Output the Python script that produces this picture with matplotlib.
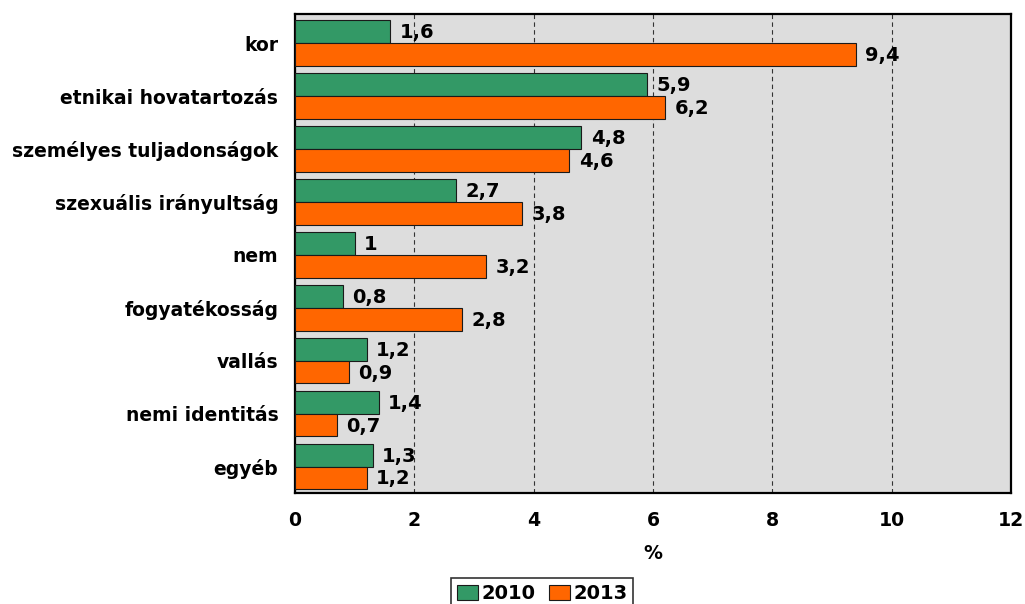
import numpy as np
import matplotlib.pyplot as plt

categories = ["kor", "etnikai hovatartozás", "személyes tuljadonságok",
              "szexuális irányultság", "nem", "fogyatékosság", "vallás",
              "nemi identitás", "egyéb"]
vals_2010 = [1.6, 5.9, 4.8, 2.7, 1.0, 0.8, 1.2, 1.4, 1.3]
vals_2013 = [9.4, 6.2, 4.6, 3.8, 3.2, 2.8, 0.9, 0.7, 1.2]
series_names = ["2010", "2013"]


def fmt(v):
    s = ("%.1f" % v).rstrip("0").rstrip(".")
    return s.replace(".", ",")


plt.rcParams['font.family'] = ['DejaVu Sans']
plt.rcParams['font.weight'] = 'bold'

fig = plt.figure(figsize=(10.25, 6.04), dpi=100)
ax = fig.add_axes([0.2878, 0.1838, 0.6985, 0.7930])
ax.set_facecolor("#DDDDDD")

y = np.arange(len(categories))
h = 0.43
b1 = ax.barh(y - h / 2, vals_2010, height=h, color="#339966",
             edgecolor="#1a1a1a", linewidth=0.8, label=series_names[0], zorder=3)
b2 = ax.barh(y + h / 2, vals_2013, height=h, color="#FF6600",
             edgecolor="#1a1a1a", linewidth=0.8, label=series_names[1], zorder=3)

for bars, vals in ((b1, vals_2010), (b2, vals_2013)):
    for bar, v in zip(bars, vals):
        ax.text(v + 0.16, bar.get_y() + bar.get_height() / 2 + 0.02, fmt(v),
                va="center", ha="left", fontsize=14, fontweight="bold", zorder=4)

ax.set_xlim(0, 12)
ax.set_ylim(len(categories) - 0.5, -0.55)
ax.set_xticks(range(0, 13, 2))
ax.set_yticks(y)
ax.set_yticklabels(categories, fontsize=13.5, fontweight="bold")
ax.tick_params(axis="x", labelsize=13.6, length=0, pad=13)
ax.tick_params(axis="y", length=0, pad=12)
ax.xaxis.grid(True, linestyle=(0, (4, 3)), color="#333333", linewidth=0.8, zorder=1)
for sp in ax.spines.values():
    sp.set_linewidth(1.6)
    sp.set_color("black")
ax.set_xlabel("%", fontsize=13.6, fontweight="bold", labelpad=10)

leg = fig.legend(loc="upper center", bbox_to_anchor=(0.529, 0.043), ncol=2,
                 fontsize=14, frameon=True, fancybox=False, edgecolor="black",
                 handlelength=1.1, handleheight=0.8, handletextpad=0.15,
                 columnspacing=0.7, borderpad=0.3, borderaxespad=0)
leg.get_frame().set_linewidth(1.2)
for t in leg.get_texts():
    t.set_fontweight("bold")

fig.savefig("out.png", dpi=100)
